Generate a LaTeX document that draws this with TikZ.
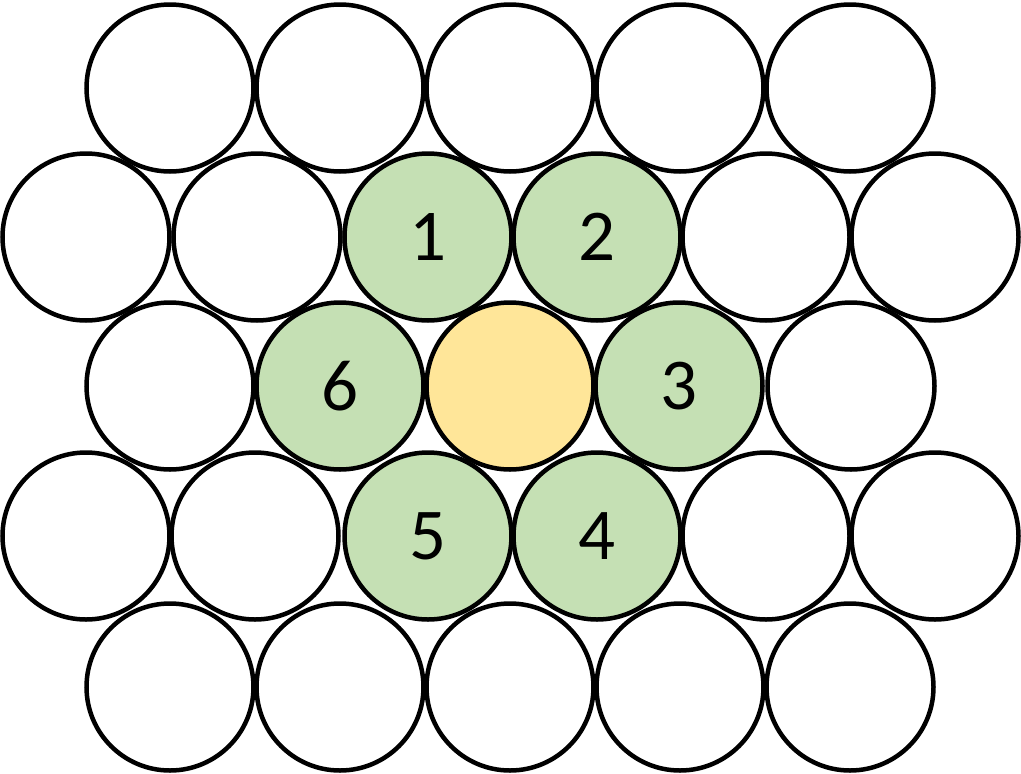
\documentclass[tikz,border=0pt]{standalone}
\usepackage{fontspec}
\setmainfont{Carlito}
\definecolor{lgreen}{HTML}{C5E0B4}
\definecolor{lyellow}{HTML}{FFE699}
\begin{document}
\begin{tikzpicture}[x=1pt,y=-1pt,
  ball/.style={circle,draw=black,line width=4.5pt,fill=white,minimum size=167pt,inner sep=0pt,
    font=\fontsize{73}{80}\selectfont},
  nb/.style={ball,fill=lgreen},
  ctr/.style={ball,fill=lyellow}]
\useasboundingbox (0,0) rectangle (1021,774);
% row 1
\foreach \i in {0,...,4} \node[ball] (a\i) at (170+170*\i,88) {};
% row 2
\node[ball] (b0) at (86,237) {};
\node[ball] (b1) at (257,237) {};
\node[nb] (b2) at (428,237) {1};
\node[nb] (b3) at (597,237) {2};
\node[ball] (b4) at (766,237) {};
\node[ball] (b5) at (935,237) {};
% row 3
\node[ball] (c0) at (170,386) {};
\node[nb] (c1) at (340,386) {6};
\node[ctr] (c2) at (510,386) {};
\node[nb] (c3) at (679,386) {3};
\node[ball] (c4) at (851,386) {};
% row 4
\node[ball] (d0) at (86,536) {};
\node[ball] (d1) at (255,536) {};
\node[nb] (d2) at (428,536) {5};
\node[nb] (d3) at (597,536) {4};
\node[ball] (d4) at (766,536) {};
\node[ball] (d5) at (935,536) {};
% row 5
\foreach \i in {0,...,4} \node[ball] (e\i) at (170+170*\i,687) {};
\end{tikzpicture}
\end{document}
